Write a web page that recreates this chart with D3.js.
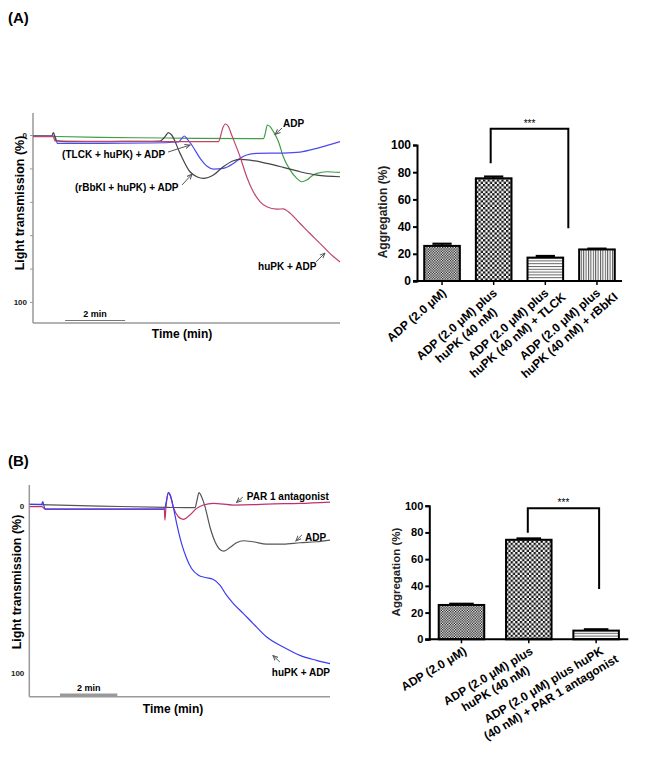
<!DOCTYPE html>
<html><head><meta charset="utf-8">
<script src="https://cdn.jsdelivr.net/npm/d3@7/dist/d3.min.js"></script>
<style>
body{margin:0;background:#fff}
svg{display:block}
text{font-family:"Liberation Sans",Arial,Helvetica,sans-serif}
</style>
</head><body>
<svg id="c" width="645" height="757"></svg>
<script>
// ---------------- DATA ----------------
// Panel A traces: [time (min), light transmission (%)]
const traceA_rBbKI = [[0.01,0.6],[0.62,0.6],[0.68,-1.4],[0.77,3.4],[1.12,4],[2.23,4],[3.34,3.8],[4.23,3.6],[4.4,1],[4.51,-1.4],[4.62,0],[4.9,11],[5.23,22],[5.46,25],[5.68,26],[6.01,24],[6.34,19],[6.68,15.4],[6.9,14.6],[7.23,15],[7.79,17],[8.34,19.4],[8.9,22],[9.46,24],[10.23,25]];
const traceA_huPK = [[0.01,1],[0.68,1],[0.73,3.6],[2.23,3.8],[4.46,4],[6.18,4],[6.23,2],[6.32,-4],[6.41,-6.6],[6.5,-5.4],[6.62,0],[6.73,5],[6.9,13],[7.12,25],[7.34,34],[7.57,40],[7.79,43],[8.12,44.4],[8.34,44.2],[8.51,46],[8.9,53],[9.23,59],[9.57,65],[9.9,71],[10.23,76]];
const traceA_TLCK = [[0.01,0.6],[0.73,0.6],[0.81,5],[2.23,5],[3.9,4.8],[4.84,4.2],[4.96,2],[5.04,0.6],[5.12,2],[5.29,6],[5.57,14],[5.79,18.6],[6.01,20.4],[6.34,20],[6.68,17],[6.9,14],[7.12,12],[7.46,11],[8.34,10.8],[8.9,10.2],[9.46,8],[10.23,4]];
const traceA_ADP = [[0.01,0.6],[2.23,1.4],[4.46,1.8],[7.68,2.2],[7.74,-1],[7.81,-6],[7.9,-5],[8.01,-2],[8.18,4],[8.34,13],[8.57,21],[8.79,26],[8.96,28],[9.12,27],[9.29,24.6],[9.46,23],[9.79,22],[10.23,22.4]];

// Panel B traces
const traceB_ADP = [[0.02,-0.8],[2.47,0.2],[4.79,1],[5.78,1.2],[5.84,-2.4],[5.92,-7.8],[6.01,-5.4],[6.13,0.6],[6.3,12.6],[6.48,21.6],[6.65,26.2],[6.79,27.2],[7.0,25],[7.23,22.2],[7.47,21],[7.81,21.6],[8.28,23],[8.86,23],[9.44,22.2],[10.02,21.6],[10.49,20.6]];
const traceB_PAR1 = [[0.02,0.6],[0.43,0.6],[0.55,2],[2.47,2],[4.71,2],[4.73,8.6],[4.77,0.6],[4.85,-7.8],[4.93,-5.4],[5.02,0.6],[5.2,6.6],[5.37,8.2],[5.6,5.6],[5.84,1.6],[6.07,-0.4],[6.42,-1.4],[7.12,-0.4],[7.81,-0.6],[8.28,-1],[9.44,-1.4],[10.49,-2.2]];
const traceB_huPK = [[0.02,-0.8],[0.43,-0.8],[0.47,-2.4],[0.5,-0.8],[0.55,2],[2.47,2],[4.71,2],[4.79,-3.4],[4.85,-7.8],[4.93,-5.8],[5.02,0.6],[5.14,10.6],[5.31,22.6],[5.49,31.6],[5.66,37.6],[5.9,41.6],[6.13,43],[6.42,44.2],[6.65,47.6],[6.88,53.6],[7.12,58.6],[7.47,64.6],[7.81,70.6],[8.28,78.6],[8.86,84.6],[9.44,89.6],[10.02,92.6],[10.49,94.6]];

const traceTicks = [0, 20, 40, 60, 80, 100];
const traceTickLabels = {0: "0", 100: "100"};
const scaleBarMin = [1.07, 3.07];

// Annotations (data units: time, %)
const annA_text = ["ADP", "(TLCK + huPK) + ADP", "(rBbKI + huPK) + ADP", "huPK + ADP"];
const annA_textPos = [[8.33,-4.8],[0.97,13.8],[1.4,33.5],[7.5,81.1]];
const annA_arrows = [[[8.3,-4.2],[8.07,-0.3]],[[4.5,10.2],[5.23,6.0]],[[4.97,29.9],[5.3,23.4]],[[9.43,76],[9.73,70.7]]];
const annB_text = ["PAR 1 antagonist", "ADP", "huPK + ADP"];
const annB_textPos = [[7.59,-3.7],[9.62,21.4],[8.46,102.2]];
const annB_arrows = [[[7.45,-5.2],[7.23,-1.9]],[[9.51,17.5],[9.3,21.1]],[[8.74,93.6],[8.5,89.7]]];

// Bar charts
const barA_labels = [["ADP (2.0 μM)"],["ADP (2.0 μM) plus","huPK (40 nM)"],["ADP (2.0 μM) plus","huPK (40 nM) + TLCK"],["ADP (2.0 μM) plus","huPK (40 nM) + rBbKI"]];
const barA_values = [25.8, 75.5, 17.2, 23.2];
const barA_errors = [1.6, 1.3, 1.2, 0.6];
const barA_bracket = {from: 1, to: 2, top: 112, leftEnd: 86.5, rightEnd: 38.7, label: "***"};

const barB_labels = [["ADP (2.0 μM)"],["ADP (2.0 μM) plus","huPK (40 nM)"],["ADP (2.0 μM) plus huPK","(40 nM) + PAR 1 antagonist"]];
const barB_values = [25.7, 74.5, 6.5];
const barB_errors = [0.9, 1.0, 1.0];
const barB_bracket = {from: 1, to: 2, top: 98, leftEnd: 79.8, rightEnd: 37.6, label: "***"};

const barTicks = [0, 20, 40, 60, 80, 100];

// ---------------- DRAWING ----------------
const svg = d3.select("#c");
svg.append("rect").attr("width",645).attr("height",757).attr("fill","#fff");
const defs = svg.append("defs");

function checker(id, s){
  const p = defs.append("pattern").attr("id",id).attr("patternUnits","userSpaceOnUse").attr("width",2*s).attr("height",2*s);
  p.append("rect").attr("width",2*s).attr("height",2*s).attr("fill","#fff");
  p.append("rect").attr("width",s).attr("height",s).attr("fill","#111");
  p.append("rect").attr("x",s).attr("y",s).attr("width",s).attr("height",s).attr("fill","#111");
}
checker("chkFine", 1.3);
checker("chkBig", 2.3);
(function(){
  const h = defs.append("pattern").attr("id","hLines").attr("patternUnits","userSpaceOnUse").attr("width",6).attr("height",2.8);
  h.append("rect").attr("width",6).attr("height",2.8).attr("fill","#fff");
  h.append("rect").attr("y",0).attr("width",6).attr("height",1).attr("fill","#666");
  const v = defs.append("pattern").attr("id","vLines").attr("patternUnits","userSpaceOnUse").attr("width",2.4).attr("height",6);
  v.append("rect").attr("width",2.4).attr("height",6).attr("fill","#fff");
  v.append("rect").attr("x",0).attr("width",1).attr("height",6).attr("fill","#555");
  const m = defs.append("marker").attr("id","arr").attr("viewBox","0 0 8 8").attr("refX",7).attr("refY",4)
    .attr("markerWidth",6).attr("markerHeight",6).attr("orient","auto").attr("markerUnits","userSpaceOnUse");
  m.append("path").attr("d","M0,1 L7,4 L0,7").attr("fill","none").attr("stroke","#555").attr("stroke-width",1.3);
})();

function panelLabel(txt, x, y){
  svg.append("text").attr("x",x).attr("y",y).attr("font-size",15).attr("font-weight","bold").text(txt);
}
panelLabel("(A)", 8, 23);
panelLabel("(B)", 8, 466);

function drawTrace(cfg){
  const g = svg.append("g");
  const x = d3.scaleLinear().domain([0, cfg.tMax]).range([cfg.left, cfg.right]);
  const y = d3.scaleLinear().domain([0, 100]).range([cfg.y0, cfg.y100]);
  const yTop = y.invert(cfg.top), yBot = y.invert(cfg.bottom);
  // axes
  g.append("line").attr("x1",x(0)).attr("x2",x(0)).attr("y1",y(yTop)).attr("y2",y(yBot)).attr("stroke","#999").attr("stroke-width",1.5);
  g.append("line").attr("x1",x(0)).attr("x2",x(cfg.tMax)).attr("y1",y(yBot)).attr("y2",y(yBot)).attr("stroke","#999").attr("stroke-width",1.5);
  const ax = g.append("g").attr("transform",`translate(${x(0)},0)`)
    .call(d3.axisLeft(y).tickValues(traceTicks).tickSize(cfg.tickSize).tickPadding(cfg.tickPad)
      .tickFormat(d => traceTickLabels[d] || ""));
  ax.select(".domain").remove();
  ax.selectAll(".tick line").attr("stroke","#999");
  ax.selectAll("text").attr("font-size",8).attr("font-weight","bold").attr("fill","#222")
    .style("font-family",'"Liberation Sans",Arial,sans-serif');
  // scale bar
  g.append("line").attr("x1",x(scaleBarMin[0])).attr("x2",x(scaleBarMin[1]))
    .attr("y1",cfg.barY).attr("y2",cfg.barY).attr("stroke",cfg.barColor).attr("stroke-width",cfg.barW);
  g.append("text").attr("x",(x(scaleBarMin[0])+x(scaleBarMin[1]))/2).attr("y",cfg.barY-4)
    .attr("text-anchor","middle").attr("font-size",9).attr("font-weight","bold").text("2 min");
  // labels
  g.append("text").attr("x",cfg.xLab[0]).attr("y",cfg.xLab[1]).attr("text-anchor","middle")
    .attr("font-size",12).attr("font-weight","bold").text("Time (min)");
  g.append("text").attr("transform",`translate(${cfg.yLab[0]},${cfg.yLab[1]}) rotate(-90)`).attr("text-anchor","middle")
    .attr("font-size",12.5).attr("font-weight","bold").text("Light transmission (%)");
  // lines
  const line = d3.line().x(d=>x(d[0])).y(d=>y(d[1])).curve(d3.curveMonotoneX);
  cfg.series.forEach(s=>{
    g.append("path").datum(s.data).attr("d",line).attr("fill","none").attr("stroke",s.color).attr("stroke-width",1.2);
  });
  // annotations
  cfg.annText.forEach((t,i)=>{
    g.append("text").attr("x",x(cfg.annPos[i][0])).attr("y",y(cfg.annPos[i][1]))
      .attr("font-size",10).attr("font-weight","bold").text(t);
    const a = cfg.annArrows[i];
    g.append("line").attr("x1",x(a[0][0])).attr("y1",y(a[0][1])).attr("x2",x(a[1][0])).attr("y2",y(a[1][1]))
      .attr("stroke","#555").attr("stroke-width",1).attr("marker-end","url(#arr)");
  });
}

drawTrace({
  tMax:10.23, left:33, right:340, y0:135, y100:302, top:113, bottom:323, tickSize:3, tickPad:3,
  barY:320.5, barColor:"#777", barW:1.2, xLab:[182,338], yLab:[24,203],
  series:[
    {data:traceA_ADP, color:"#3f9f45"},
    {data:traceA_TLCK, color:"#4b4bf0"},
    {data:traceA_rBbKI, color:"#444"},
    {data:traceA_huPK, color:"#c0456e"}
  ],
  annText:annA_text, annPos:annA_textPos, annArrows:annA_arrows
});

drawTrace({
  tMax:10.49, left:29.3, right:330, y0:505.7, y100:672.7, top:485, bottom:696.7, tickSize:0, tickPad:5,
  barY:695, barColor:"#999", barW:3, xLab:[173,713], yLab:[20.5,582],
  series:[
    {data:traceB_ADP, color:"#555"},
    {data:traceB_PAR1, color:"#c0306e"},
    {data:traceB_huPK, color:"#3c3cf0"}
  ],
  annText:annB_text, annPos:annB_textPos, annArrows:annB_arrows
});

function drawBars(cfg){
  const g = svg.append("g");
  const n = cfg.values.length;
  const x = d3.scaleBand().domain(d3.range(n)).range([cfg.left, cfg.right]).paddingInner(cfg.padIn).paddingOuter(cfg.padOut);
  const y = d3.scaleLinear().domain([0,100]).range([cfg.y0, cfg.y100]);
  const bw = x.bandwidth();
  // bars
  cfg.values.forEach((v,i)=>{
    g.append("rect").attr("x",x(i)).attr("y",y(v)).attr("width",bw).attr("height",y(0)-y(v))
      .attr("fill",`url(#${cfg.patterns[i]})`).attr("stroke","#000").attr("stroke-width",2);
    const cx = x(i)+bw/2;
    g.append("line").attr("x1",cx).attr("x2",cx).attr("y1",y(v)).attr("y2",y(v+cfg.errors[i])).attr("stroke","#000").attr("stroke-width",2);
    g.append("line").attr("x1",cx-bw*0.27).attr("x2",cx+bw*0.27).attr("y1",y(v+cfg.errors[i])).attr("y2",y(v+cfg.errors[i]))
      .attr("stroke","#000").attr("stroke-width",2.2);
  });
  // y axis
  const ay = g.append("g").attr("transform",`translate(${cfg.left},0)`)
    .call(d3.axisLeft(y).tickValues(barTicks).tickSize(4).tickPadding(2).tickFormat(d3.format("d")));
  ay.select(".domain").attr("stroke-width",2);
  ay.selectAll(".tick line").attr("stroke-width",2);
  ay.selectAll("text").attr("font-size",cfg.tickFs).attr("font-weight","bold").attr("fill","#000")
    .style("font-family",'"Liberation Sans",Arial,sans-serif');
  // x axis
  g.append("line").attr("x1",cfg.left-4).attr("x2",cfg.right).attr("y1",y(0)).attr("y2",y(0)).attr("stroke","#000").attr("stroke-width",2);
  d3.range(n).forEach(i=>{
    const cx = x(i)+bw/2;
    g.append("line").attr("x1",cx).attr("x2",cx).attr("y1",y(0)).attr("y2",y(0)+4).attr("stroke","#000").attr("stroke-width",1.5);
  });
  // y label
  g.append("text").attr("transform",`translate(${cfg.yLab[0]},${cfg.yLab[1]}) rotate(-90)`).attr("text-anchor","middle")
    .attr("font-size",cfg.yLabFs).attr("font-weight","bold").attr("fill","#222").text("Aggregation (%)");
  // x labels (rotated, lines centered on each other)
  cfg.labels.forEach((lines,i)=>{
    const cx = x(i)+bw/2;
    const grp = g.append("g").attr("transform",`translate(${cx+cfg.labDx[i]},${y(0)+cfg.labDy}) rotate(${-cfg.angle})`);
    const ts = lines.map((s,j)=>grp.append("text").text(s).attr("font-size",12).attr("font-weight","bold").attr("y",j*14.5));
    const w0 = ts[0].node().getComputedTextLength();
    ts.forEach(t=>t.attr("text-anchor","middle").attr("x",-w0/2));
  });
  // significance bracket
  const b = cfg.bracket;
  const xl = x(b.from)+bw/2+cfg.brDx[0], xr = x(b.to)+bw/2+cfg.brDx[1];
  g.append("path").attr("d",`M${xl},${y(b.leftEnd)}V${y(b.top)}H${xr}V${y(b.rightEnd)}`)
    .attr("fill","none").attr("stroke","#000").attr("stroke-width",2);
  g.append("text").attr("x",(xl+xr)/2).attr("y",y(b.top)-2).attr("text-anchor","middle").attr("font-size",10).text(b.label);
}

drawBars({
  values:barA_values, errors:barA_errors, labels:barA_labels, bracket:barA_bracket,
  patterns:["chkFine","chkBig","hLines","vLines"],
  left:417, right:622, padIn:0.31, padOut:0.14, y0:281, y100:145,
  tickFs:12, yLab:[387,212], yLabFs:12, angle:41, labDx:[5,4,4,4], labDy:13, brDx:[-3,23]
});
drawBars({
  values:barB_values, errors:barB_errors, labels:barB_labels, bracket:barB_bracket,
  patterns:["chkFine","chkBig","hLines"],
  left:429.3, right:628.3, padIn:0.324, padOut:0.14, y0:639.3, y100:505.7,
  tickFs:11, yLab:[400,572], yLabFs:11.5, angle:31, labDx:[6,5,8], labDy:14, brDx:[-1,3]
});
</script>
</body></html>
